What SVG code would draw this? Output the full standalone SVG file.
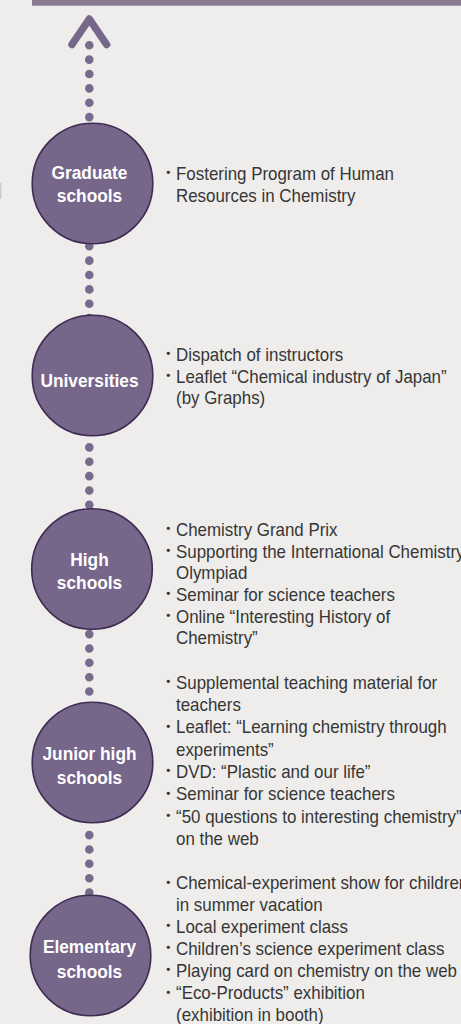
<svg xmlns="http://www.w3.org/2000/svg" width="461" height="1024" viewBox="0 0 461 1024">
  <style>
    .bg { fill: #eeedeb; }
    .bar { fill: #877a8f; }
    .edge { fill: #c9c9c9; }
    .dots { stroke: #786a8d; stroke-width: 8.6; stroke-linecap: round; stroke-dasharray: 0 14.36; fill: none; }
    .head { stroke: #76678b; stroke-width: 7.5; stroke-linecap: round; stroke-linejoin: round; fill: none; }
    .node circle { fill: #76668a; stroke: #3e2c52; stroke-width: 1.6; }
    .lbl { font-family: "Liberation Sans", Arial, sans-serif; font-weight: bold; font-size: 19px; fill: #ffffff; text-anchor: middle; }
    .desc { font-family: "Liberation Sans", Arial, sans-serif; font-size: 18px; fill: #363636; }
    .bul { font-family: "Noto Sans CJK JP", sans-serif; font-size: 15.5px; fill: #363636; }
  </style>

  <rect class="bg" x="0" y="0" width="461" height="1024"/>
  <rect class="bar" x="32" y="0" width="429" height="5.7"/>
  <rect class="edge" x="0" y="183" width="1.3" height="16"/>

  <!-- dotted connectors between the levels, with the arrow head on top -->
  <g id="connectors">
    <polyline class="head" points="72,44.5 89.3,19 106.6,44.5"/>
    <line class="dots" x1="89.3" y1="45.3" x2="89.3" y2="117.2"/>
    <line class="dots" x1="89.3" y1="246.3" x2="89.3" y2="318.2"/>
    <line class="dots" x1="89.3" y1="447.4" x2="89.3" y2="504.9"/>
    <line class="dots" x1="89.3" y1="634.1" x2="89.3" y2="691.6"/>
    <line class="dots" x1="89.3" y1="835.1" x2="89.3" y2="892.6"/>
  </g>

  <g id="node-graduate" class="node">
    <circle cx="92.5" cy="183.5" r="60.3"/>
    <g transform="translate(89.5 0) scale(0.91 1)">
      <text class="lbl" y="179.3">Graduate</text>
      <text class="lbl" y="201.7">schools</text>
    </g>
    <text class="bul" x="160.4" y="178.2">・</text>
    <g transform="translate(176 0) scale(0.94 1)">
      <text class="desc" x="0" y="180">Fostering Program of Human</text>
      <text class="desc" x="0" y="201.7">Resources in Chemistry</text>
    </g>
  </g>

  <g id="node-universities" class="node">
    <circle cx="92.5" cy="375.5" r="60.3"/>
    <g transform="translate(89.5 0) scale(0.91 1)">
      <text class="lbl" y="387.3">Universities</text>
    </g>
    <text class="bul" x="160.4" y="359.2">・</text>
    <text class="bul" x="160.4" y="380.9">・</text>
    <g transform="translate(176 0) scale(0.94 1)">
      <text class="desc" x="0" y="361">Dispatch of instructors</text>
      <text class="desc" x="0" y="382.7">Leaflet “Chemical industry of Japan”</text>
      <text class="desc" x="0" y="404.3">(by Graphs)</text>
    </g>
  </g>

  <g id="node-high" class="node">
    <circle cx="92" cy="569" r="60.3"/>
    <g transform="translate(89.5 0) scale(0.91 1)">
      <text class="lbl" y="566">High</text>
      <text class="lbl" y="588.7">schools</text>
    </g>
    <text class="bul" x="160.4" y="534.2">・</text>
    <text class="bul" x="160.4" y="555.9">・</text>
    <text class="bul" x="160.4" y="599.2">・</text>
    <text class="bul" x="160.4" y="621">・</text>
    <g transform="translate(176 0) scale(0.94 1)">
      <text class="desc" x="0" y="536">Chemistry Grand Prix</text>
      <text class="desc" x="0" y="557.7">Supporting the International Chemistry</text>
      <text class="desc" x="0" y="579.4">Olympiad</text>
      <text class="desc" x="0" y="601">Seminar for science teachers</text>
      <text class="desc" x="0" y="622.8">Online “Interesting History of</text>
      <text class="desc" x="0" y="644.5">Chemistry”</text>
    </g>
  </g>

  <g id="node-junior-high" class="node">
    <circle cx="92.5" cy="762.5" r="60.3"/>
    <g transform="translate(89.5 0) scale(0.91 1)">
      <text class="lbl" y="760">Junior high</text>
      <text class="lbl" y="784">schools</text>
    </g>
    <text class="bul" x="160.4" y="687.2">・</text>
    <text class="bul" x="160.4" y="731.7">・</text>
    <text class="bul" x="160.4" y="776.2">・</text>
    <text class="bul" x="160.4" y="798.5">・</text>
    <text class="bul" x="160.4" y="820.8">・</text>
    <g transform="translate(176 0) scale(0.94 1)">
      <text class="desc" x="0" y="689">Supplemental teaching material for</text>
      <text class="desc" x="0" y="711.3">teachers</text>
      <text class="desc" x="0" y="733.5">Leaflet: “Learning chemistry through</text>
      <text class="desc" x="0" y="755.8">experiments”</text>
      <text class="desc" x="0" y="778">DVD: “Plastic and our life”</text>
      <text class="desc" x="0" y="800.3">Seminar for science teachers</text>
      <text class="desc" x="0" y="822.6">“50 questions to interesting chemistry”</text>
      <text class="desc" x="0" y="845">on the web</text>
    </g>
  </g>

  <g id="node-elementary" class="node">
    <circle cx="90.5" cy="955.5" r="60.3"/>
    <g transform="translate(89.5 0) scale(0.91 1)">
      <text class="lbl" y="953.3">Elementary</text>
      <text class="lbl" y="978.3">schools</text>
    </g>
    <text class="bul" x="160.4" y="887.5">・</text>
    <text class="bul" x="160.4" y="931.2">・</text>
    <text class="bul" x="160.4" y="953.2">・</text>
    <text class="bul" x="160.4" y="975.2">・</text>
    <text class="bul" x="160.4" y="997.7">・</text>
    <g transform="translate(176 0) scale(0.94 1)">
      <text class="desc" x="0" y="889.3">Chemical-experiment show for children</text>
      <text class="desc" x="0" y="911">in summer vacation</text>
      <text class="desc" x="0" y="933">Local experiment class</text>
      <text class="desc" x="0" y="955">Children’s science experiment class</text>
      <text class="desc" x="0" y="977">Playing card on chemistry on the web</text>
      <text class="desc" x="0" y="999.5">“Eco-Products” exhibition</text>
      <text class="desc" x="0" y="1021.5">(exhibition in booth)</text>
    </g>
  </g>
</svg>
